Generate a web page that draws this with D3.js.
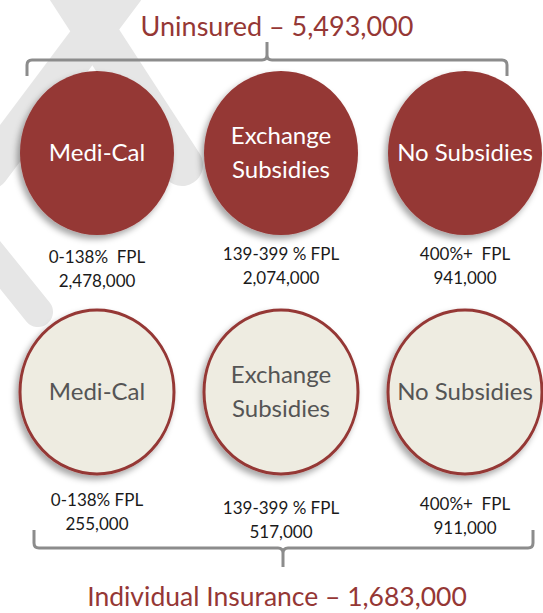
<!DOCTYPE html>
<html><head><meta charset="utf-8">
<script src="https://cdn.jsdelivr.net/npm/d3@7"></script>
<style>
html,body{margin:0;padding:0;background:#fff;}
svg{display:block;}
text{font-family:Lato,"Open Sans",sans-serif;white-space:pre;}
</style></head>
<body>
<svg id="c" width="543" height="613"></svg>
<script>
const categories = ["Medi-Cal", "Exchange\nSubsidies", "No Subsidies"];
const uninsuredFPL = ["0-138%  FPL", "139-399 % FPL", "400%+  FPL"];
const uninsuredValues = [2478000, 2074000, 941000];
const insuredFPL = ["0-138% FPL", "139-399 % FPL", "400%+  FPL"];
const insuredValues = [255000, 517000, 911000];
const uninsuredTotal = 5493000;
const insuredTotal = 1683000;

const svg = d3.select("#c");
const fmt = d3.format(",");
const red = "#953735", beige = "#eeece1";

const defs = svg.append("defs");
const f = defs.append("filter").attr("id","sh").attr("x","-30%").attr("y","-30%").attr("width","160%").attr("height","160%");
f.append("feDropShadow").attr("dx",-3).attr("dy",4).attr("stdDeviation",3).attr("flood-color","#000").attr("flood-opacity",0.35);

// watermark
const wm = svg.append("g").attr("stroke","#e6e6e6").attr("fill","none").attr("stroke-linecap","round");
wm.append("path").attr("d","M62,-20 L182,165").attr("stroke-width",42);
wm.append("path").attr("d","M125,-10 L-10,170").attr("stroke-width",38);
wm.append("path").attr("d","M-20,240 L38,312").attr("stroke-width",30);

const x = d3.scalePoint().domain(categories).range([97, 465]);

function bracket(y0, y1, yt, x0, x1, xm){
  const r = 5, s = Math.sign(y1 - y0);
  return `M${x0},${y0} L${x0},${y1 - s*r} Q${x0},${y1} ${x0+r},${y1} L${xm - r},${y1} Q${xm},${y1} ${xm},${y1 + s*r} L${xm},${yt}` +
         ` M${xm},${y1 + s*r} Q${xm},${y1} ${xm + r},${y1} L${x1 - r},${y1} Q${x1},${y1} ${x1},${y1 - s*r} L${x1},${y0}`;
}

// titles
svg.append("text").attr("x",277).attr("y",36).attr("text-anchor","middle")
  .attr("font-size",27).attr("fill",red).text("Uninsured – " + fmt(uninsuredTotal));
svg.append("text").attr("x",277).attr("y",606).attr("text-anchor","middle")
  .attr("font-size",26.5).attr("fill",red).text("Individual Insurance – " + fmt(insuredTotal));

// brackets
svg.append("path").attr("d", bracket(76, 60, 42, 27, 507, 267))
  .attr("fill","none").attr("stroke","#8c8c8c").attr("stroke-width",3);
svg.append("path").attr("d", bracket(530, 548, 567, 34, 533, 283))
  .attr("fill","none").attr("stroke","#8c8c8c").attr("stroke-width",3);

function row(cy, fill, stroke, tcol, fpl, vals, labY){
  const g = svg.append("g");
  const cs = g.selectAll("g.c").data(categories).join("g").attr("class","c")
    .attr("transform", d => `translate(${x(d)},${cy})`);
  cs.append("ellipse").attr("rx",77).attr("ry",82).attr("fill",fill)
    .attr("stroke",stroke).attr("stroke-width",stroke==="none"?0:3).attr("filter","url(#sh)");
  cs.each(function(d){
    const lines = d.split("\n");
    const t = d3.select(this).append("text").attr("text-anchor","middle").attr("font-size",24).attr("fill",tcol);
    lines.forEach((l,i)=>{
      t.append("tspan").attr("x",0).attr("y", 8 + (i - (lines.length-1)/2)*34).text(l);
    });
  });
  categories.forEach((c,i)=>{
    const ly = labY[i];
    svg.append("text").attr("x",x(c)).attr("y",ly).attr("text-anchor","middle")
      .attr("font-size",17).attr("fill","#1a1a1a").text(fpl[i]);
    svg.append("text").attr("x",x(c)).attr("y",ly+24).attr("text-anchor","middle")
      .attr("font-size",17).attr("fill","#1a1a1a").text(fmt(vals[i]));
  });
}
row(153, red, "none", "#fff", uninsuredFPL, uninsuredValues, [263,260,260]);
row(392, beige, red, "#555", insuredFPL, insuredValues, [506,514,510]);
</script>
</body></html>
